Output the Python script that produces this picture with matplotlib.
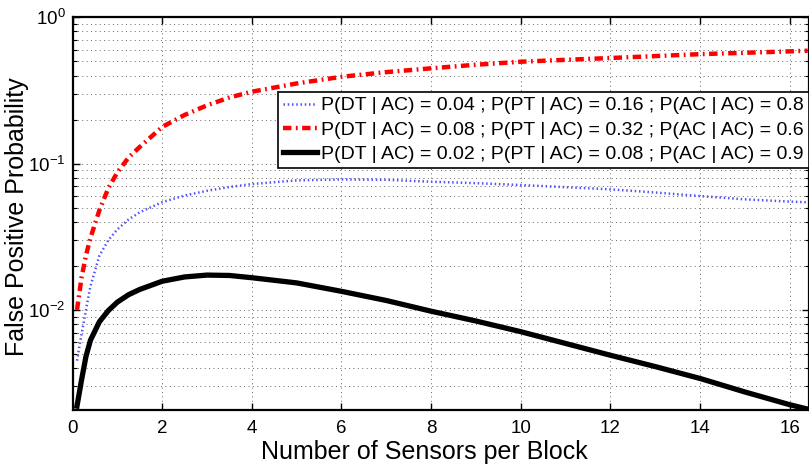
import matplotlib
matplotlib.use("Agg")
import matplotlib.pyplot as plt
from matplotlib.ticker import LogLocator, FixedLocator, NullFormatter

plt.rcParams['font.family'] = ['Liberation Sans', 'DejaVu Sans']
plt.rcParams['mathtext.fontset'] = 'custom'
plt.rcParams['mathtext.rm'] = 'Liberation Sans'

# --- data ---
sensors = [0.1, 0.2, 0.3, 0.4, 0.6, 0.8, 1.0, 1.25, 1.5, 2.0, 2.5, 3.0, 3.5, 4.0,
           5.0, 6.0, 7.0, 8.0, 9.0, 10.0, 11.0, 12.0, 13.0, 14.0, 15.0, 16.0, 16.4]

fp_blue = [0.0045, 0.0068, 0.0100, 0.0145, 0.0235, 0.0300, 0.0355, 0.0415, 0.0465,
           0.0545, 0.0605, 0.0652, 0.0692, 0.0725, 0.0768, 0.0780, 0.0775, 0.0752,
           0.0735, 0.0714, 0.0690, 0.0667, 0.0635, 0.0600, 0.0570, 0.0550, 0.0544]

fp_red = [0.0100, 0.0165, 0.0235, 0.0310, 0.0480, 0.0680, 0.0870, 0.1100, 0.1300,
          0.1780, 0.2150, 0.2500, 0.2830, 0.3100, 0.3530, 0.3920, 0.4220, 0.4480,
          0.4740, 0.4970, 0.5120, 0.5270, 0.5430, 0.5600, 0.5720, 0.5850, 0.5910]

fp_black = [0.00220, 0.00330, 0.00480, 0.00620, 0.00830, 0.00990, 0.01130, 0.01270,
            0.01380, 0.01570, 0.01680, 0.01730, 0.01720, 0.01660, 0.01530, 0.01340,
            0.01160, 0.00980, 0.00840, 0.00710, 0.00590, 0.00490, 0.00410, 0.00340,
            0.00275, 0.00225, 0.00210]

labels = [
    "P(DT | AC) = 0.04 ; P(PT | AC) = 0.16 ; P(AC | AC) = 0.8",
    "P(DT | AC) = 0.08 ; P(PT | AC) = 0.32 ; P(AC | AC) = 0.6",
    "P(DT | AC) = 0.02 ; P(PT | AC) = 0.08 ; P(AC | AC) = 0.9",
]
x_ticks = [0, 2, 4, 6, 8, 10, 12, 14, 16]

fig = plt.figure(figsize=(8.09, 4.66), dpi=100)
ax = fig.add_axes([72.5 / 809, (466 - 410) / 466, (808.5 - 72.5) / 809, (410 - 17.3) / 466])

ax.plot(sensors, fp_blue, color='#5050ff', lw=1.8, linestyle=(0, (0.6, 1.1)),
        label=labels[0])
ax.plot(sensors, fp_red, color='#ff0000', lw=3.2, linestyle=(0, (1.9, 1.0, 0.4, 1.0)),
        label=labels[1])
ax.plot(sensors, fp_black, color='black', lw=3.8, linestyle='-', label=labels[2])

ax.set_yscale('log')
ax.set_xlim(0, 16.42)
ax.set_ylim(2.07e-3, 1)
ax.xaxis.set_major_locator(FixedLocator(x_ticks))
ax.yaxis.set_major_locator(LogLocator(base=10, numticks=10))
ax.yaxis.set_minor_locator(LogLocator(base=10, subs=range(2, 10), numticks=20))
ax.yaxis.set_minor_formatter(NullFormatter())

ax.grid(True, which='major', axis='both', linestyle=(0, (1, 3.5)), color='#666666', lw=0.7)
ax.grid(True, which='minor', axis='y', linestyle=(0, (1, 3.5)), color='#666666', lw=0.7)

ax.tick_params(which='both', direction='in', top=True, right=True, labelsize=13.5)
ax.tick_params(axis='x', which='major', length=5, width=1, pad=7)
ax.tick_params(axis='y', which='major', length=5, width=1, pad=5)
ax.tick_params(which='minor', length=3, width=0.8)
for s in ax.spines.values():
    s.set_linewidth(1.6)

ax.set_xlabel("Number of Sensors per Block", fontsize=18)
ax.set_ylabel("False Positive Probability", fontsize=18)
ax.xaxis.set_label_coords((424 - 72.5) / 736, -(452 - 410) / 392.7)
ax.xaxis.label.set_va('center')
ax.yaxis.set_label_coords((17 - 72.5) / 736, 0.5 - (216.5 - 213.7) / 392.7)
ax.yaxis.label.set_va('center')

leg = ax.legend(loc='upper right', bbox_to_anchor=(1.0, 0.81), fontsize=14,
                frameon=True, fancybox=False, edgecolor='black', framealpha=1,
                handlelength=1.75, handletextpad=0.2, borderpad=0.25, labelspacing=0.35,
                borderaxespad=0.0)
leg.get_frame().set_linewidth(1.2)

fig.savefig("out.png", dpi=100)
